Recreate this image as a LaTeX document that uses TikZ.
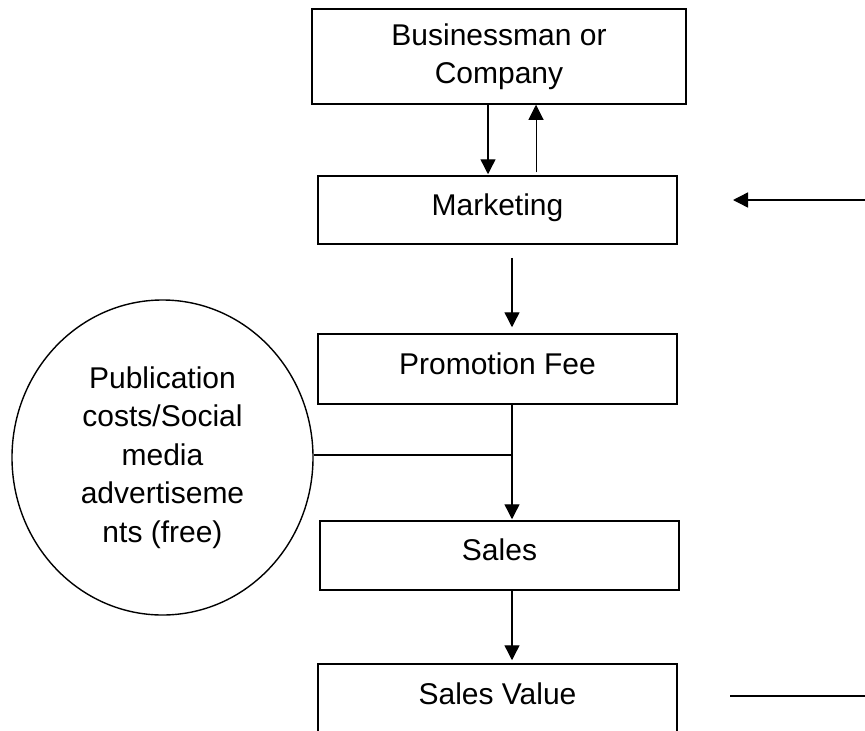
\documentclass[tikz,border=0pt]{standalone}
\usepackage{fontspec}
\setmainfont{Liberation Sans}
\usetikzlibrary{arrows.meta,shapes.geometric}
\begin{document}
\begin{tikzpicture}[x=1pt,y=-1pt,
  box/.style={draw, line width=1.5pt, rectangle, inner sep=0pt,
    minimum width=359pt, minimum height=69pt,
    font=\fontsize{30pt}{38.5pt}\selectfont},
  onebox/.style={box, text height=22pt, text depth=12pt},
  conn/.style={line width=1.4pt, -{Triangle[width=15pt,length=15pt]}},
  plain/.style={line width=1.4pt},
  thinconn/.style={line width=1pt, -{Triangle[width=15pt,length=15pt]}}]
\useasboundingbox (0,0) rectangle (865,731);
\clip (0,0) rectangle (865,731);
\fill[white] (0,0) rectangle (865,731);

\node[box, align=center, minimum width=374pt, minimum height=95pt] (b1) at (499,56.5) {Businessman or\\Company};
\node[onebox, minimum height=68pt] (mk) at (497.5,210) {Marketing};
\node[onebox, minimum height=70pt] (pr) at (497.5,369) {Promotion Fee};
\node[onebox] (sl) at (499.5,555.5) {Sales};
\node[onebox, minimum height=70pt] (sv) at (497.5,699) {Sales Value};

\node[draw, ellipse, line width=1.4pt, inner sep=0pt,
  minimum width=301pt, minimum height=315pt, align=center,
  font=\fontsize{30pt}{38.5pt}\selectfont] (pub) at (162.5,457.5)
  {Publication\\costs/Social\\media\\advertiseme\\nts (free)};

\coordinate (xa) at (488,0);
\coordinate (xb) at (536,0);
\coordinate (xc) at (512,0);
\coordinate (jn) at (512,455);
\coordinate (r1) at (865,200);
\coordinate (r2) at (733,200);
\coordinate (r3) at (730,696);
\coordinate (r4) at (865,696);

\draw[conn, shorten >=1pt] (b1.south -| xa) -- (mk.north -| xa);
\draw[thinconn, shorten <=3pt] (mk.north -| xb) -- (b1.south -| xb);
\draw[conn, shorten <=13pt, shorten >=6pt] (mk.south -| xc) -- (pr.north -| xc);
\draw[conn, shorten >=1pt] (pr.south -| xc) -- (sl.north -| xc);
\draw[plain] (jn -| pub.east) -- (jn);
\draw[conn, shorten >=3pt] (sl.south -| xc) -- (sv.north -| xc);
\draw[conn] (r1) -- (r2);
\draw[plain] (r3) -- (r4);
\end{tikzpicture}
\end{document}
